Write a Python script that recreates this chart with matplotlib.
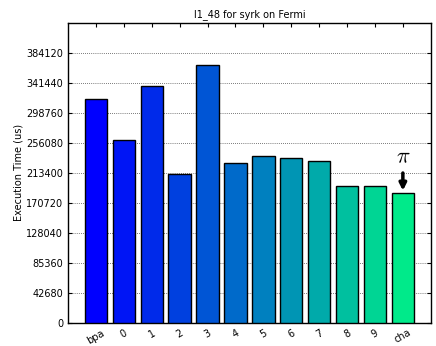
import matplotlib
matplotlib.use('Agg')
import matplotlib.pyplot as plt
import numpy as np

labels = ['bpa', '0', '1', '2', '3', '4', '5', '6', '7', '8', '9', 'cha']
times = [317830, 259500, 336320, 211130, 366620, 226770, 237160, 234310, 229620, 194050, 194480, 184090]
ymax = 426800
yticks = [i * 42680 for i in range(10)]

x = np.arange(len(labels))
colors = plt.cm.winter(np.arange(len(labels)) / float(len(labels)))

fig = plt.figure(figsize=(4.36, 3.46), dpi=100)
ax = fig.add_axes([0.156, 0.067, 0.832, 0.867])
ax.bar(x, times, width=0.8, color=colors, edgecolor='black', linewidth=1, zorder=3)
ax.set_xlim(-1, 12)
ax.set_ylim(0, ymax)
ax.set_yticks(yticks)
ax.set_yticklabels([str(t) for t in yticks], fontsize=7)
ax.set_xticks(x)
ax.set_xticklabels(labels, rotation=30, fontsize=7)
ax.tick_params(direction='in', top=True, right=True, length=3, width=0.8)
ax.yaxis.grid(True, linestyle=(0, (1, 2)), color='black', linewidth=0.5, zorder=0)
ax.set_ylabel('Execution Time (us)', fontsize=7, labelpad=2)
ax.set_title('l1_48 for syrk on Fermi', fontsize=7, pad=4)
for s in ax.spines.values():
    s.set_linewidth(1)

# marker over the best one
best = int(np.argmin(times))
ax.annotate('', xy=(x[best], times[best]), xytext=(x[best], times[best] + 33000),
            arrowprops=dict(arrowstyle='-|>', color='black', lw=2.5, mutation_scale=10))
ax.text(x[best], times[best] + 38000, r'$\pi$', fontsize=16, ha='center', va='bottom',
        math_fontfamily='cm')

fig.savefig('out.png', dpi=100)
